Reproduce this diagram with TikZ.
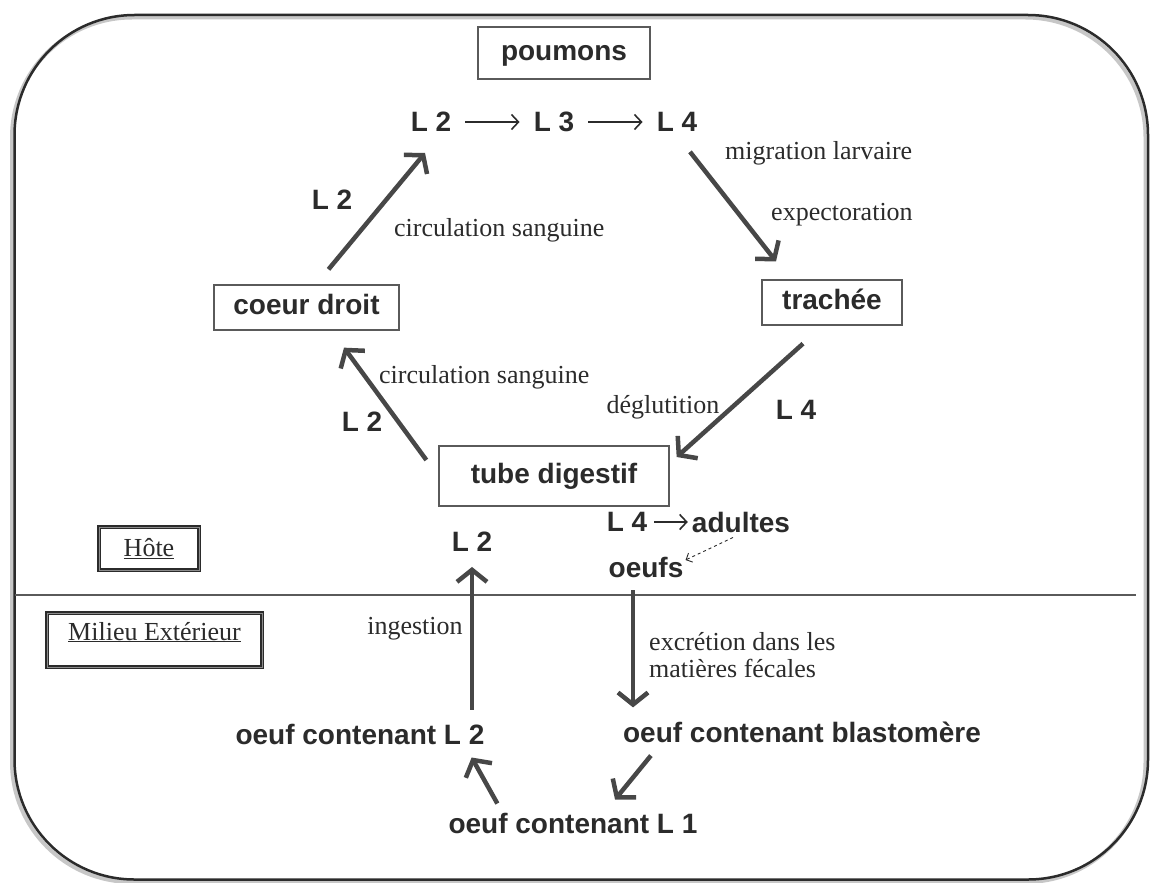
\documentclass[tikz,border=0pt]{standalone}
\usepackage{fontspec}
\usepackage{xcolor}
\usetikzlibrary{positioning,arrows.meta,calc}
\setmainfont{Liberation Serif}
\newfontfamily\arialfont{Liberation Sans}
\newcommand{\labelfont}{\arialfont\bfseries\fontsize{28}{32}\selectfont}
\newcommand{\notefont}{\fontsize{26}{27}\selectfont}
\definecolor{ink}{HTML}{2B2B2B}
\definecolor{arrowgray}{HTML}{474747}
\definecolor{boxgray}{HTML}{5A5A5A}

\begin{document}
\begin{tikzpicture}[x=1pt, y=-1pt,
    box/.style={rectangle, draw=boxgray, line width=1.3pt, font=\labelfont, text=ink, inner sep=3pt, text height=20pt, text depth=6pt},
    frame/.style={rectangle, draw=ink, line width=1.6pt, double=black!45, double distance=1pt, font=\notefont, text=ink, inner sep=3pt},
    lbl/.style={font=\labelfont, text=ink, inner sep=3pt},
    note/.style={font=\notefont, text=ink, inner sep=3pt},
    flow/.style={draw=arrowgray, line width=4.5pt, -{Straight Barb[length=12pt, width=30pt]}},
    link/.style={draw=ink, line width=1.6pt, -{Straight Barb[length=7pt, width=15pt]}, shorten <=11pt, shorten >=11pt}
]
    \useasboundingbox (0,0) rectangle (1151,883);

    % Outer frame (with its soft shadow) and host / outside separator
    \draw[black!22, line width=4pt, rounded corners=120pt] (12,17.5) rectangle (1145.5,882);
    \draw[ink, line width=2.5pt, rounded corners=120pt] (14.5,15) rectangle (1148,879.5);
    \draw[boxgray, line width=1.5pt] (14.5,595) -- (1136,595);

    % Organs
    \node[box, minimum width=172pt, minimum height=52pt] (poumons) at (564,53) {poumons};
    \node[box, minimum width=185pt, minimum height=45pt] (coeur) at (306.5,307.5) {coeur droit};
    \node[box, minimum width=140pt, minimum height=45pt] (trachee) at (832,302.5) {trachée};
    \node[box, minimum width=230pt, minimum height=60pt] (tube) at (554,476) {tube digestif};

    % Larval stages in the lungs
    \node[lbl] (l2top) at (431,122) {L 2};
    \node[lbl] (l3) at (554,122) {L 3};
    \node[lbl] (l4top) at (677,122) {L 4};

    % Labels of the host cycle
    \node[lbl] (l2up) at (332,200) {L 2};
    \node[note, anchor=west] (circup) at (391,230) {circulation sanguine};
    \node[note, anchor=west] (migr) at (722,153) {migration larvaire};
    \node[note, anchor=west] (expect) at (768,215) {expectoration};
    \node[note, anchor=west] (circlow) at (376,377) {circulation sanguine};
    \node[lbl] (l2low) at (362,422) {L 2};
    \node[note] (deglu) at (663,407) {déglutition};
    \node[lbl] (l4mid) at (796,410) {L 4};

    % Inside the gut
    \node[lbl] (l4low) at (627,522) {L 4};
    \node[lbl] (adultes) at (741,522) {adultes};
    \node[lbl] (oeufs) at (646,567) {oeufs};
    \node[lbl] (l2bot) at (472,542) {L 2};

    % Zones
    \node[frame, minimum width=100pt, minimum height=43pt] (hote) at (149,548.5) {\underline{Hôte}};
    \node[frame, minimum width=215pt, minimum height=54pt, text height=20pt, text depth=20pt] (milieu) at (154.5,640) {\underline{Milieu Extérieur}};

    % Outside the host
    \node[note] (ingestion) at (415,629) {ingestion};
    \node[note, anchor=west, align=left] (excretion) at (646,655) {excrétion dans les\\matières fécales};
    \node[lbl] (oeufL2) at (360,734) {oeuf contenant L 2};
    \node[lbl] (oeufBl) at (802,732) {oeuf contenant blastomère};
    \node[lbl] (oeufL1) at (573,823) {oeuf contenant L 1};

    % Arrows: lungs
    \draw[link] (l2top) -- (l3);
    \draw[link] (l3) -- (l4top);
    \draw[link, shorten <=4pt, shorten >=1pt] (l4low) -- (adultes);

    % Arrows: host cycle
    \draw[flow] ([xshift=22pt, yshift=15pt]coeur.north) -- ([xshift=-6pt, yshift=-18pt]l2top.south);
    \draw[flow] ([xshift=13pt, yshift=-17pt]l4top.south) -- ([xshift=-56pt, yshift=18pt]trachee.north);
    \draw[flow] ([xshift=-29pt, yshift=-18pt]trachee.south) -- ([xshift=7pt, yshift=19pt]tube.east);
    \draw[flow] ([xshift=-12pt, yshift=16pt]tube.west) -- ([xshift=37.5pt, yshift=-17pt]coeur.south);
    \draw[ink, line width=0.9pt, dashed, -{Straight Barb[length=5pt, width=10pt]}] ([xshift=-8pt, yshift=-2pt]adultes.south) -- ([xshift=-1pt, yshift=7pt]oeufs.east);

    % Arrows: outside
    \draw[flow, shorten <=11pt, shorten >=12pt] (oeufL2.north -| l2bot.south) -- (l2bot.south);
    \draw[flow, shorten <=10pt, shorten >=11pt] ([xshift=-13pt]oeufs.south) -- ([xshift=-13pt]oeufs.south |- oeufBl.north);
    \draw[flow] ([xshift=31pt, yshift=-10pt]oeufBl.south west) -- ([xshift=42pt, yshift=10pt]oeufL1.north);
    \draw[flow] ([xshift=52pt, yshift=6pt]oeufL1.north west) -- ([xshift=-16pt, yshift=-10pt]oeufL2.south east);
\end{tikzpicture}
\end{document}
